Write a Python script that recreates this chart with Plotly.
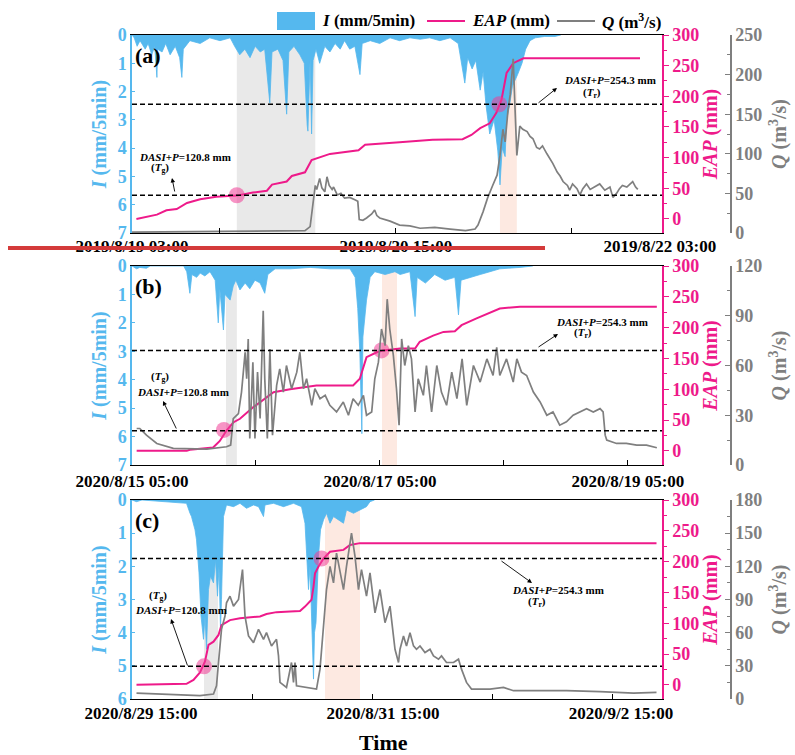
import plotly.graph_objects as go

# ---------------- data (hours from left edge of each panel) ----------------
# Panel (a) 2019/8/19 03:00 ->
A_I_h = [0, 0.3, 0.7, 1.1, 1.8, 2.2, 2.7, 3.1, 3.4, 3.5, 4.1, 4.6, 5.2, 5.9, 6.5, 6.8, 7.0, 7.9, 9.3, 10.6,
         12.0, 13.4, 14.0, 14.7, 15.4, 16.1, 16.8, 17.5, 18.1, 18.8, 19.1, 19.9, 20.6, 21.1, 21.4, 22.1, 22.9, 23.5, 23.9, 24.0,
         24.3, 24.5, 24.7, 25.1, 25.6, 26.3, 27.0, 27.7, 28.4, 29.0, 29.7, 30.4, 31.1, 31.4, 32.5, 33.8, 35.2, 36.5, 37.9, 39.3,
         40.6, 42.0, 43.4, 44.5, 45.4, 45.8, 46.4, 46.9, 47.5, 47.9, 48.3, 48.8, 49.4, 49.9, 50.2, 50.5, 50.9, 51.1, 51.5, 51.9,
         52.6, 53.2, 53.7, 54.3, 55.0, 56.3, 57.7, 58.5]
A_I_v = [0, 0.1, 0.4, 0.2, 0.5, 0.3, 0.7, 0.4, 1.5, 0.5, 0.6, 0.3, 0.7, 0.4, 0.8, 1.5, 0.5, 0.2, 0.3, 0.1,
         0.2, 0.1, 0.4, 0.7, 0.5, 0.8, 0.4, 0.6, 0.5, 2.4, 0.6, 0.5, 0.9, 2.8, 0.6, 0.4, 0.7, 1.0, 3.2, 3.4,
         0.8, 3.5, 0.9, 0.5, 1.0, 0.4, 0.6, 0.3, 0.5, 0.2, 0.5, 0.4, 1.4, 0.3, 0.2, 0.3, 0.1, 0.2, 0.1, 0.15,
         0.1, 0.2, 0.1, 0.3, 1.7, 0.8, 1.2, 0.9, 1.95, 1.3, 2.5, 3.5, 3.0, 4.1, 5.3, 4.0, 4.3, 3.0, 2.5, 1.8,
         1.4, 1.0, 0.5, 0.2, 0.1, 0.05, 0.05, 0]
A_EAP_h = [0.6, 2.0, 3.4, 4.7, 6.1, 7.5, 9.3, 11.5, 14.3, 16.5, 18.4, 19.1, 21.1, 21.8, 23.6, 24.5, 27.0, 30.9,
           31.8, 36.5, 41.0, 45.1, 46.3, 47.5, 48.8, 49.7, 50.4, 51.1, 52.0, 53.4, 69.3]
A_EAP_v = [0, 4, 7, 14, 16, 26, 32, 36, 38, 43, 46, 56, 61, 70, 76, 96, 106, 112,
           121, 125, 129, 130, 137, 148, 156, 173, 194, 238, 254, 262, 262]
A_Q_h = [0, 9.3, 21.5, 23.6, 24.3, 24.7, 25.0, 25.2, 25.6, 25.9, 26.3, 26.6, 26.9, 27.3, 27.5, 28.0, 28.5, 29.0, 29.7, 30.4,
         30.8, 31.0, 31.5, 32.0, 32.7, 33.1, 33.4, 33.8, 35.2, 36.5, 37.9, 39.3, 41.3, 43.4, 45.5, 46.8, 47.2, 47.9, 48.5, 49.2,
         49.8, 50.2, 50.6, 50.9, 51.3, 51.6, 51.8, 52.0, 52.2, 52.5, 52.9, 53.3, 53.9, 54.3, 54.7, 55.2, 55.6, 56.0, 56.6, 57.0,
         57.4, 58.0, 58.4, 58.8, 59.4, 59.7, 60.1, 60.7, 61.1, 61.5, 62.0, 62.5, 63.1, 63.8, 64.5, 65.2, 65.6, 66.1, 66.5, 66.9,
         67.5, 67.9, 68.3, 68.7, 69.0]
A_Q_v = [1, 1.5, 2, 3, 8, 40, 60, 55, 69, 57, 52, 71, 60, 55, 58, 48, 50, 44, 45, 42,
         40, 17, 16, 19, 24, 29, 22, 19, 15, 10, 9, 6, 7, 5, 3, 5, 10, 27, 44, 60,
         73, 98, 131, 115, 156, 175, 198, 220, 169, 98, 135, 131, 128, 122, 119, 108, 106, 110, 100, 94,
         88, 77, 72, 65, 60, 54, 62, 56, 48, 56, 62, 55, 58, 62, 54, 58, 45, 50, 56, 60,
         58, 62, 65, 58, 55]
A_xtick_h = [0, 36, 72]
A_xtick_text = ["2019/8/19 03:00", "2019/8/20 15:00", "2019/8/22 03:00"]
A_xminor_h = [12, 36, 60]

# Panel (b) 2020/8/15 05:00 ->
B_I_h = [0, 0.9, 1.5, 2.8, 3.5, 10.0, 10.6, 11.2, 11.6, 12.5, 13.2, 14.1, 15.1, 16.1, 16.7, 17.0, 17.7, 18.0, 19.0, 19.6,
         20.1, 20.9, 21.9, 22.8, 23.8, 24.8, 25.7, 26.3, 27.7, 30.6, 34.5, 38.3, 42.2, 43.2, 43.7, 44.1, 44.5, 44.7, 45.4, 46.1,
         47.0, 49.0, 50.9, 51.9, 53.8, 54.8, 55.2, 56.8, 58.6, 60.6, 62.5, 63.2, 63.7, 65.4, 67.4, 69.3, 71.2, 75.1, 77.6]
B_I_v = [0, 0.1, 0.05, 0.08, 0, 0, 0.2, 0.96, 0.3, 0.4, 0.25, 0.35, 0.2, 0.5, 2.0, 0.8, 2.25, 1.0, 1.2, 0.7,
         0.5, 0.84, 0.6, 0.8, 0.5, 0.6, 0.96, 0.3, 0.1, 0.1, 0.05, 0.1, 0.1, 0.4, 1.5, 3.0, 5.9, 2.5, 1.2, 0.4,
         0.2, 0.3, 0.2, 0.3, 0.2, 1.78, 0.4, 0.6, 0.3, 0.5, 0.4, 1.72, 0.5, 0.4, 0.3, 0.2, 0.1, 0.05, 0]
B_EAP_h = [0.9, 10.6, 11.2, 15.7, 17.0, 18.3, 19.6, 20.9, 23.5, 26.1, 27.4, 30.6, 35.7, 42.8, 44.1, 45.4, 47.4, 48.6,
           51.9, 54.8, 55.7, 58.3, 60.3, 62.5, 63.8, 66.7, 69.3, 71.2, 75.1, 84.1, 101.6]
B_EAP_v = [0, 0, 1.6, 5.4, 16, 33, 46, 52, 71, 87, 95, 100, 106, 106, 117, 152, 160, 163,
           166, 166, 177, 187, 193, 194, 204, 215, 225, 231, 234, 234, 234]
B_Q_h = [0.9, 1.5, 2.8, 4.8, 8.0, 14.5, 18.3, 19.1, 19.6, 20.6, 21.2, 21.9, 22.2, 22.5, 22.8, 23.4, 23.8, 24.3, 24.8, 25.4,
         25.7, 26.2, 26.7, 27.2, 28.0, 28.6, 29.3, 29.9, 30.9, 31.9, 32.5, 33.2, 33.8, 34.8, 35.4, 36.4, 37.4, 38.3, 39.6, 40.9,
         41.9, 42.8, 43.8, 44.8, 45.4, 46.4, 47.0, 47.7, 48.3, 49.0, 49.4, 49.9, 50.6, 51.2, 51.7, 52.2, 52.8, 53.5, 54.1, 54.8,
         55.4, 56.4, 57.0, 58.0, 59.0, 59.9, 60.9, 61.9, 62.9, 63.9, 64.8, 66.1, 67.4, 68.7, 69.9, 70.6, 71.2, 72.5, 73.8, 74.5,
         75.4, 76.4, 77.7, 79.0, 80.3, 81.5, 82.8, 84.1, 85.4, 86.7, 88.0, 89.3, 90.6, 91.2, 91.6, 91.9, 93.8, 95.7, 97.7, 99.6,
         101.6]
B_Q_v = [22, 22, 18, 13, 10, 9.6, 11, 12, 28, 31, 44, 68, 52, 76, 16, 62, 16, 56, 28, 93,
         52, 16, 70, 18, 48, 58, 44, 60, 46, 56, 68, 46, 52, 36, 46, 40, 42, 36, 32, 38,
         30, 40, 36, 42, 30, 32, 52, 62, 82, 72, 100, 82, 66, 46, 24, 76, 60, 72, 64, 32,
         52, 42, 60, 32, 60, 44, 36, 56, 40, 64, 36, 60, 50, 64, 54, 71, 54, 64, 50, 64,
         56, 54, 44, 38, 30, 32, 24, 26, 30, 32, 34, 32, 34, 32, 18, 15, 13, 13, 12, 12,
         10.4]
B_xtick_h = [0, 48, 96]
B_xtick_text = ["2020/8/15 05:00", "2020/8/17 05:00", "2020/8/19 05:00"]
B_xminor_h = [24, 48, 72, 96]

# Panel (c) 2020/8/29 15:00 ->
C_I_h = [0, 0.9, 2.0, 10.9, 11.6, 11.9, 12.6, 12.9, 13.4, 13.8, 14.3, 14.6, 14.9, 15.3, 15.7, 16.3, 16.7, 17.1, 17.4, 17.7,
         17.9, 18.3, 18.9, 20.3, 21.6, 22.9, 24.3, 25.3, 26.3, 26.6, 28.3, 30.3, 32.3, 33.9, 34.6, 34.9, 35.3, 35.6, 35.9, 36.3,
         36.5, 36.8, 37.3, 37.7, 38.3, 38.9, 39.6, 40.3, 41.3, 42.3, 42.9, 44.3, 45.6, 46.9, 47.6, 48.5]
C_I_v = [0, 0.05, 0, 0.1, 0.4, 0.5, 0.9, 1.2, 2.2, 3.5, 4.2, 3.5, 4.5, 2.7, 2.3, 2.5, 1.8, 2.9, 2.0, 3.9,
         3.0, 0.5, 0.15, 0.2, 0.1, 0.25, 0.15, 0.2, 0.5, 0.15, 0.1, 0.2, 0.1, 0.2, 0.7, 1.5, 2.7, 2.0, 3.5, 5.4,
         4.0, 3.7, 1.7, 0.9, 0.6, 0.4, 0.7, 0.5, 0.6, 0.7, 0.3, 0.4, 0.3, 0.2, 0.05, 0]
C_EAP_h = [0.9, 10.9, 12.3, 13.6, 14.6, 15.3, 16.3, 17.3, 17.9, 19.6, 21.6, 25.6, 26.9, 28.9, 31.6, 33.6, 34.6, 35.9,
           36.3, 36.6, 37.3, 38.3, 39.6, 42.3, 43.6, 45.6, 104.9]
C_EAP_v = [0, 1.6, 8, 20, 38, 65, 70, 81, 97, 105, 108, 111, 115, 118, 119, 120, 127, 138,
           159, 181, 192, 205, 216, 219, 227, 230, 230]
C_Q_h = [0.9, 6.9, 13.6, 16.3, 16.9, 17.3, 17.9, 18.6, 18.9, 19.6, 20.3, 21.3, 22.1, 22.6, 23.3, 24.3, 25.3, 26.3, 26.9, 27.9,
         28.9, 29.3, 29.6, 30.9, 31.9, 32.3, 32.6, 32.9, 34.9, 36.9, 37.6, 38.3, 38.9, 39.6, 40.3, 40.9, 41.6, 42.3, 42.9, 43.9,
         44.6, 45.3, 45.9, 46.9, 47.6, 48.6, 49.6, 50.6, 51.6, 52.6, 53.3, 53.6, 54.3, 54.9, 55.6, 56.3, 56.9, 57.6, 58.6, 59.6,
         60.3, 61.3, 61.9, 62.9, 64.3, 65.3, 65.9, 66.9, 67.9, 69.6, 71.6, 74.3, 76.3, 80.3, 86.9, 93.6, 100.3, 104.9]
C_Q_v = [5.4, 4.5, 3, 4.5, 12, 33, 63, 75, 87, 93, 84, 90, 117, 75, 57, 51, 63, 54, 60, 48,
         54, 39, 15, 10.5, 33, 15, 33, 12, 10.5, 9, 27, 63, 99, 120, 105, 132, 114, 99, 120, 150,
         129, 99, 117, 93, 114, 78, 99, 69, 84, 45, 33, 45, 57, 48, 60, 48, 45, 48, 42, 45,
         39, 36, 39, 33, 33, 36, 27, 15, 9, 9, 9, 10.5, 7.5, 7.5, 7.5, 6.6, 5.4, 6]
C_xtick_h = [1.8, 50.2, 97.8]
C_xtick_text = ["2020/8/29 15:00", "2020/8/31 15:00", "2020/9/2 15:00"]
C_xminor_h = [24, 48, 72, 96]

# thresholds (EAP units), threshold-crossing points, shaded periods (hours)
A_thr = [38.6, 187]
B_thr = [32.6, 163]
C_thr = [30, 205]
A_pts_h, A_pts_v = [14.3, 50.1], [38.6, 187]
B_pts_h, B_pts_v = [17.8, 48.3], [34, 163]
C_pts_h, C_pts_v = [14.4, 37.9], [30, 205]
A_grey, A_pink = [14.3, 25.0], [50.2, 52.5]
B_grey, B_pink = [18.2, 20.3], [48.4, 51.3]
C_grey, C_pink = [14.4, 17.2], [38.6, 45.6]

# ---------------- styling ----------------
W, H = 795, 755
FONT = "Liberation Serif, Times New Roman, serif"
BLUE = "#55b8ee"
PINK = "#ee1a8a"
GREY = "#7f7f7f"


def fx(x):
    return x / W


def fy(y):
    return 1 - y / H


panels = [
    dict(lab="(a)", Ih=A_I_h, Iv=A_I_v, Eh=A_EAP_h, Ev=A_EAP_v, Qh=A_Q_h, Qv=A_Q_v, xr=[0, 72.3],
         Imax=7, Qmax=250, Qd=50, xt=A_xtick_h, xtt=A_xtick_text, xm=A_xminor_h, thr=A_thr,
         ph=A_pts_h, pv=A_pts_v, grey=A_grey, pink=A_pink, top=35, bot=233, lso=-3),
    dict(lab="(b)", Ih=B_I_h, Iv=B_I_v, Eh=B_EAP_h, Ev=B_EAP_v, Qh=B_Q_h, Qv=B_Q_v, xr=[0, 102.6],
         Imax=7, Qmax=120, Qd=30, xt=B_xtick_h, xtt=B_xtick_text, xm=B_xminor_h, thr=B_thr,
         ph=B_pts_h, pv=B_pts_v, grey=B_grey, pink=B_pink, top=266, bot=465, lso=0),
    dict(lab="(c)", Ih=C_I_h, Iv=C_I_v, Eh=C_EAP_h, Ev=C_EAP_v, Qh=C_Q_h, Qv=C_Q_v, xr=[0, 106],
         Imax=6, Qmax=180, Qd=30, xt=C_xtick_h, xtt=C_xtick_text, xm=C_xminor_h, thr=C_thr,
         ph=C_pts_h, pv=C_pts_v, grey=C_grey, pink=C_pink, top=500, bot=699, lso=-2),
]

fig = go.Figure()
layout = {}
shapes = []
annotations = []
tickfont = dict(family=FONT, size=18, weight="bold")

for k, p in enumerate(panels):
    xa = "x" if k == 0 else f"x{k + 1}"
    nI, nE, nQ = 3 * k + 1, 3 * k + 2, 3 * k + 3
    yI = "y" if nI == 1 else f"y{nI}"
    yE, yQ = f"y{nE}", f"y{nQ}"
    dom_y = [fy(p["bot"]), fy(p["top"])]

    fig.add_trace(go.Scatter(x=p["Ih"], y=p["Iv"], xaxis=xa, yaxis=yI, mode="lines", fill="tozeroy",
                             line=dict(color=BLUE, width=0.8), fillcolor=BLUE, showlegend=False))
    fig.add_trace(go.Scatter(x=p["Eh"], y=p["Ev"], xaxis=xa, yaxis=yE, mode="lines",
                             line=dict(color=PINK, width=2), showlegend=False))
    fig.add_trace(go.Scatter(x=p["ph"], y=p["pv"], xaxis=xa, yaxis=yE, mode="markers",
                             marker=dict(size=16, color="rgba(240,60,150,0.55)", line=dict(width=0)),
                             showlegend=False))
    fig.add_trace(go.Scatter(x=p["Qh"], y=p["Qv"], xaxis=xa, yaxis=yQ, mode="lines",
                             line=dict(color=GREY, width=1.7), showlegend=False))

    xkey = "xaxis" if k == 0 else f"xaxis{k + 1}"
    layout[xkey] = dict(domain=[fx(132), fx(662)], anchor=yI, range=p["xr"], tickmode="array",
                        tickvals=p["xt"], ticktext=p["xtt"], ticks="", showline=True, linecolor="black",
                        linewidth=1.2, mirror=True, showgrid=False, zeroline=False,
                        tickfont=dict(family=FONT, size=17, weight="bold", color="black"),
                        minor=dict(tickmode="array", tickvals=p["xm"], ticks="inside", ticklen=5,
                                   tickcolor="black", tickwidth=1.2, showgrid=False))
    ykI = "yaxis" if nI == 1 else f"yaxis{nI}"
    layout[ykI] = dict(domain=dom_y, anchor=xa, range=[p["Imax"], 0], tickmode="linear", tick0=0, dtick=1,
                       showline=True, linecolor=BLUE, linewidth=1.5, ticks="inside", ticklen=3,
                       tickcolor=BLUE, showgrid=False, zeroline=False,
                       tickfont=dict(tickfont, color=BLUE),
                       title=dict(text="<i>I</i> (mm/5min)", standoff=6,
                                  font=dict(family=FONT, size=20, weight="bold", color=BLUE)))
    layout[f"yaxis{nE}"] = dict(overlaying=yI, anchor=xa, side="right", range=[-23, 300], tickmode="linear",
                                tick0=0, dtick=50, showline=True, linecolor=PINK, linewidth=1.5,
                                ticks="outside", ticklen=5, tickcolor=PINK, showgrid=False, zeroline=False,
                                minor=dict(dtick=25, tick0=0, ticks="outside", ticklen=3, tickcolor=PINK),
                                tickfont=dict(tickfont, color=PINK),
                                title=dict(text="<i>EAP</i> (mm)", standoff=4,
                                           font=dict(family=FONT, size=20, weight="bold", color=PINK)))
    layout[f"yaxis{nQ}"] = dict(overlaying=yI, anchor="free", position=fx(731), side="right",
                                range=[0, p["Qmax"]], tickmode="linear", tick0=0, dtick=p["Qd"],
                                showline=True, linecolor=GREY, linewidth=1.5, ticks="inside", ticklen=5,
                                tickcolor=GREY, showgrid=False, zeroline=False,
                                minor=dict(dtick=p["Qd"] / 2, tick0=0, ticks="inside", ticklen=3, tickcolor=GREY),
                                tickfont=dict(tickfont, color=GREY),
                                title=dict(text="<i>Q</i> (m<sup>3</sup>/s)", standoff=10,
                                           font=dict(family=FONT, size=20, weight="bold", color=GREY)))

    # shaded periods
    shapes.append(dict(type="rect", xref=xa, yref=f"{yI} domain", x0=p["grey"][0], x1=p["grey"][1], y0=0, y1=1,
                       fillcolor="rgba(215,215,215,0.55)", line=dict(width=0), layer="below"))
    shapes.append(dict(type="rect", xref=xa, yref=f"{yI} domain", x0=p["pink"][0], x1=p["pink"][1], y0=0, y1=1,
                       fillcolor="rgba(252,215,200,0.55)", line=dict(width=0), layer="below"))
    # threshold dashed lines
    for t in p["thr"]:
        shapes.append(dict(type="line", xref=f"{xa} domain", yref=yE, x0=0, x1=1, y0=t, y1=t,
                           line=dict(color="black", width=1.5, dash="5px,3px"), layer="above"))
    # panel label
    annotations.append(dict(text=f"<b>{p['lab']}</b>", x=fx(133), y=fy(p["top"] + 20), xref="paper", yref="paper",
                            xanchor="left", yanchor="middle", showarrow=False,
                            font=dict(family=FONT, size=22, color="black")))

# ---------- threshold annotations ----------
ANN_FONT = dict(family=FONT, size=11, color="black")
DASI_G = "<b><i>DASI</i>+<i>P</i>=120.8 mm</b>"
DASI_R = "<b><i>DASI</i>+<i>P</i>=254.3 mm</b>"
TG = "<b>(<i>T</i><sub>g</sub>)</b>"
TR = "<b>(<i>T</i><sub>r</sub>)</b>"
texts = [
    (DASI_G, 185, 157), (TG, 160, 168), (DASI_R, 610, 80), (TR, 592, 93),
    (TG, 160, 377), (DASI_G, 183, 392), (DASI_R, 602, 322), (TR, 583, 333),
    (TG, 158, 596), (DASI_G, 181, 610), (DASI_R, 558, 590), (TR, 537, 602),
]
for t, x, y in texts:
    annotations.append(dict(text=t, x=fx(x), y=fy(y), xref="paper", yref="paper", showarrow=False,
                            xanchor="center", yanchor="middle", font=ANN_FONT))
# arrows: (tail on dashed line) -> (head near text)
arrows = [((175, 193), (172, 178)), ((537, 104), (557, 88)),
          ((177, 430), (163, 401)), ((537, 348), (558, 334)),
          ((188, 667), (171, 619)), ((500, 560), (532, 583))]
for (tx, ty), (hx, hy) in arrows:
    annotations.append(dict(text="", x=fx(hx), y=fy(hy), xref="paper", yref="paper", showarrow=True,
                            ax=tx - hx, ay=ty - hy, axref="pixel", ayref="pixel", arrowhead=2,
                            arrowsize=1, arrowwidth=0.9, arrowcolor="black", standoff=0, startstandoff=0))

# ---------- legend (custom) ----------
shapes.append(dict(type="rect", xref="paper", yref="paper", x0=fx(277), x1=fx(315), y0=fy(30), y1=fy(12),
                   fillcolor=BLUE, line=dict(width=0)))
shapes.append(dict(type="line", xref="paper", yref="paper", x0=fx(427), x1=fx(465), y0=fy(21), y1=fy(21),
                   line=dict(color=PINK, width=2)))
shapes.append(dict(type="line", xref="paper", yref="paper", x0=fx(557), x1=fx(595), y0=fy(21), y1=fy(21),
                   line=dict(color=GREY, width=2)))
LEG_FONT = dict(family=FONT, size=17, color="black")
for t, x in [("<b><i>I</i> (mm/5min)</b>", 320), ("<b><i>EAP</i> (mm)</b>", 470),
             ("<b><i>Q</i> (m<sup>3</sup>/s)</b>", 600)]:
    annotations.append(dict(text=t, x=fx(x), y=fy(21), xref="paper", yref="paper", showarrow=False,
                            xanchor="left", yanchor="middle", font=LEG_FONT))

# x axis title
annotations.append(dict(text="<b>Time</b>", x=fx(383), y=fy(742), xref="paper", yref="paper", showarrow=False,
                        xanchor="center", yanchor="middle", font=dict(family=FONT, size=22, color="black")))

# red marker line present in reference
shapes.append(dict(type="line", xref="paper", yref="paper", x0=fx(8), x1=fx(545), y0=fy(248), y1=fy(248),
                   line=dict(color="#d43a3a", width=4), layer="above"))

fig.update_layout(**layout)
fig.update_layout(template="none", width=W, height=H, margin=dict(l=0, r=0, t=0, b=0),
                  paper_bgcolor="white", plot_bgcolor="rgba(0,0,0,0)", font=dict(family=FONT),
                  shapes=shapes, annotations=annotations, showlegend=False)

# nudge tick labels to match the reference's vertical placement
for k, p in enumerate(panels):
    xkey = "xaxis" if k == 0 else f"xaxis{k + 1}"
    if p["lso"]:
        try:
            fig.layout[xkey].ticklabelstandoff = p["lso"]
        except Exception:
            pass

fig.write_html("out.html")
